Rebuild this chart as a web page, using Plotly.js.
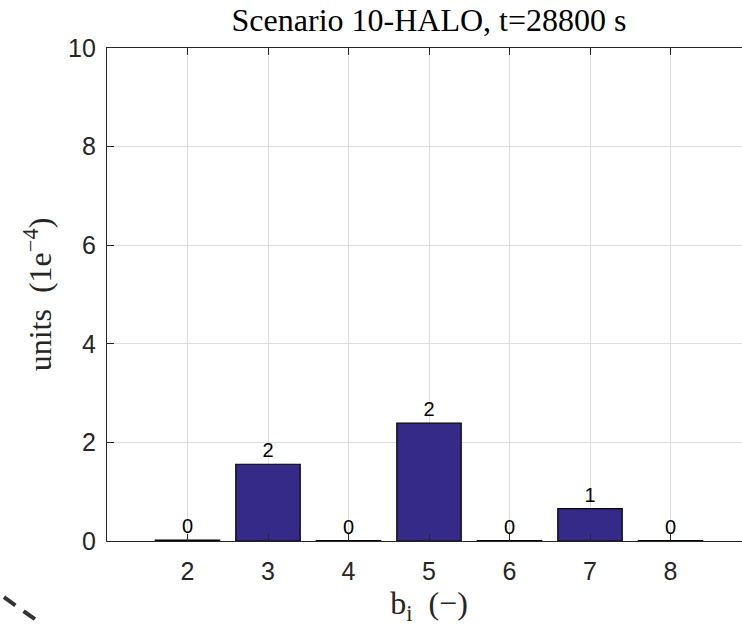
<!DOCTYPE html>
<html><head><meta charset="utf-8">
<script src="https://cdn.plot.ly/plotly-3.0.1.min.js"></script>
<style>html,body{margin:0;padding:0;overflow:hidden;background:#fff;width:742px;height:626px}</style>
</head><body>
<div id="chart" style="width:760px;height:626px"></div>
<script>
var categories = [2, 3, 4, 5, 6, 7, 8];
var values = [0.02, 1.557, 0.008, 2.39, 0.008, 0.656, 0.008];
var barLabels = ["0", "2", "0", "2", "0", "1", "0"];
var yTicks = [0, 2, 4, 6, 8, 10];

var trace = {
  type: 'bar', x: categories, y: values, width: 0.8,
  marker: {color: '#352a87', line: {color: '#000000', width: 1.2}},
  text: barLabels, textposition: 'outside', cliponaxis: false,
  textfont: {family: 'Liberation Sans, Arial, sans-serif', size: 20, color: '#000'},
  hoverinfo: 'none'
};
var layout = {
  width: 760, height: 626,
  margin: {l: 107, r: 9, t: 48, b: 85},
  paper_bgcolor: '#fff', plot_bgcolor: '#fff',
  showlegend: false,
  title: {text: 'Scenario 10-HALO, t=28800 s', x: 0.5, xref: 'paper', y: 0.968, yanchor: 'middle',
    font: {family: 'Liberation Serif, Times New Roman, serif', size: 32, color: '#000'}},
  xaxis: {range: [1, 9], tickvals: categories, ticktext: categories.map(String),
    showline: true, linecolor: '#262626', linewidth: 1.2, mirror: 'ticks',
    ticks: 'inside', ticklen: 7, tickcolor: '#262626', tickwidth: 1,
    showgrid: true, gridcolor: '#dedede', gridwidth: 1, zeroline: false,
    ticklabelstandoff: 8,
    tickfont: {family: 'Liberation Sans, Arial, sans-serif', size: 25, color: '#262626'},
    title: {text: 'b<sub>i</sub>  (−)', standoff: 4,
      font: {family: 'Liberation Serif, Times New Roman, serif', size: 32, color: '#262626'}}},
  yaxis: {range: [0, 10], tickvals: yTicks, ticktext: yTicks.map(String),
    showline: true, linecolor: '#262626', linewidth: 1.2, mirror: 'ticks',
    ticks: 'inside', ticklen: 7, tickcolor: '#262626', tickwidth: 1,
    showgrid: true, gridcolor: '#dedede', gridwidth: 1, zeroline: false,
    ticklabelstandoff: 5,
    tickfont: {family: 'Liberation Sans, Arial, sans-serif', size: 25, color: '#262626'},
    title: {text: 'units  (1e<sup>−4</sup>)', standoff: 6,
      font: {family: 'Liberation Serif, Times New Roman, serif', size: 32, color: '#262626'}}},
  shapes: [
    {type: 'line', xref: 'paper', yref: 'paper', x0: -0.160, y0: -0.114, x1: -0.104, y1: -0.166,
     line: {color: '#333333', width: 4, dash: '14px,10px'}}
  ],
  bargap: 0.2
};
Plotly.newPlot('chart', [trace], layout, {displayModeBar: false, staticPlot: true});
</script>
</body></html>
